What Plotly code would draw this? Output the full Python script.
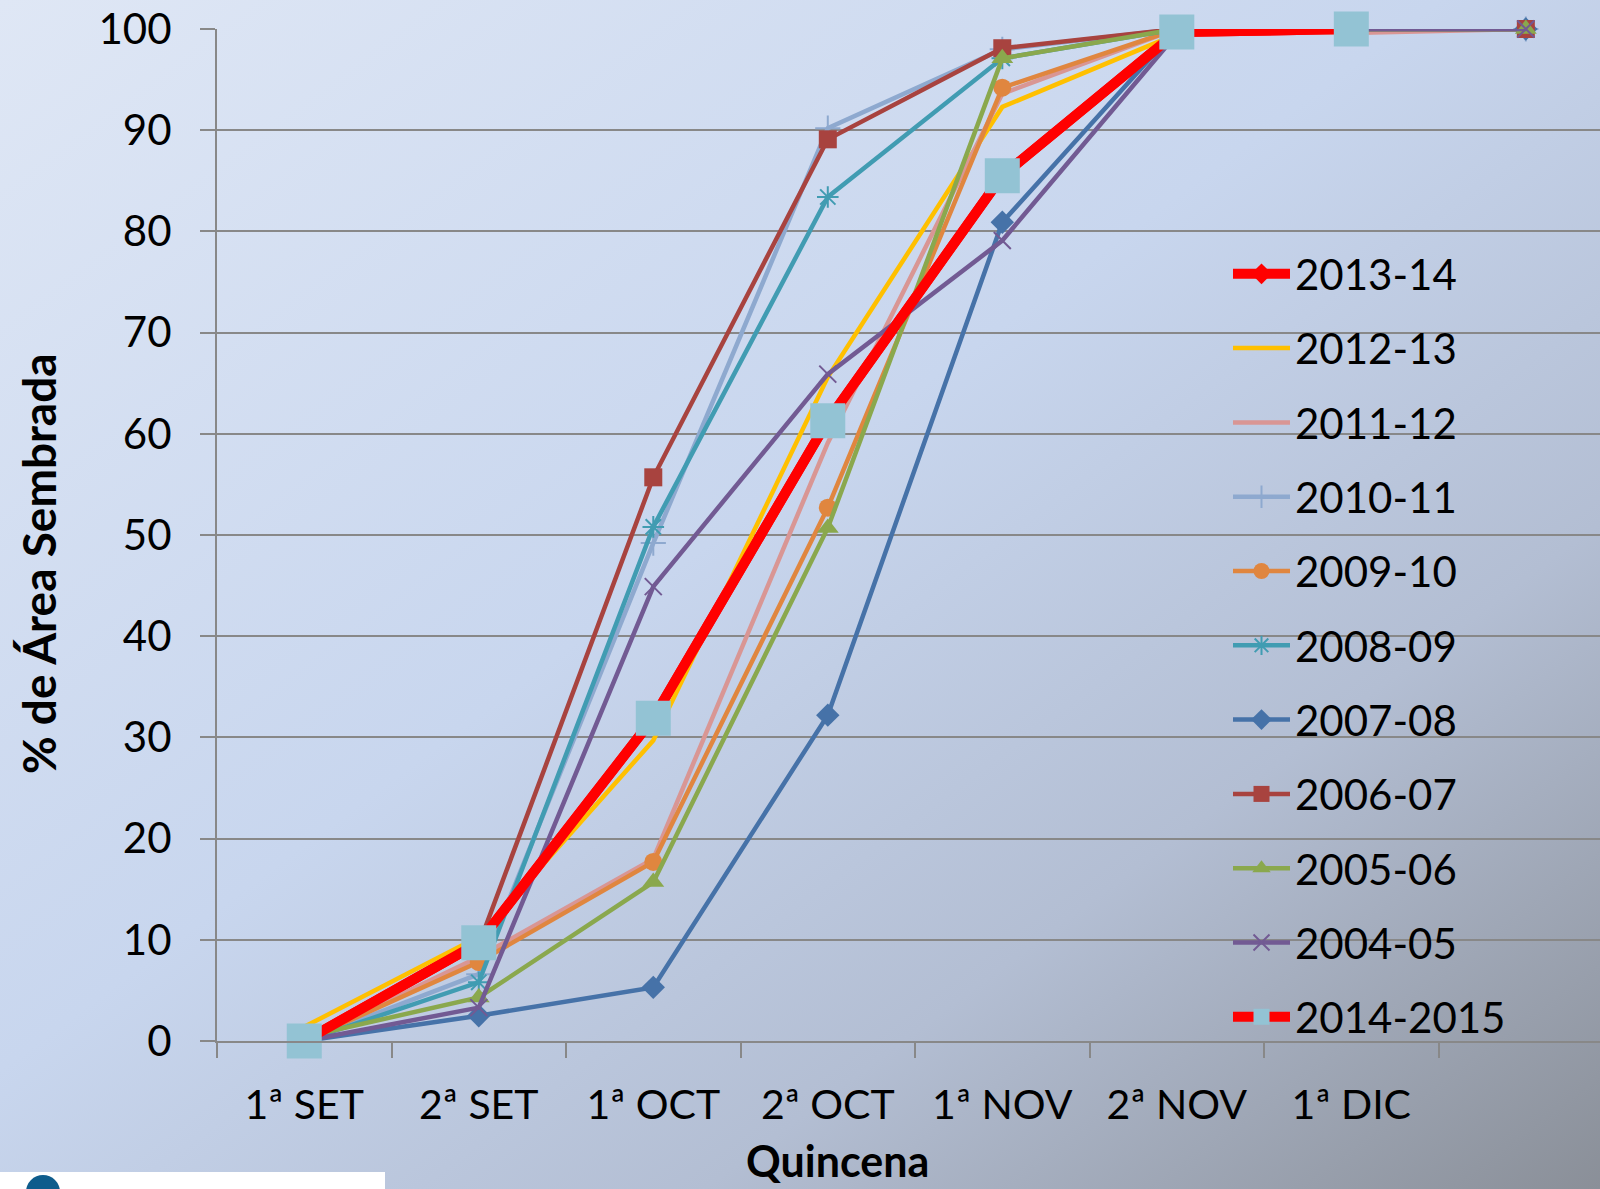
import base64
import plotly.graph_objects as go

categories = ["1ª SET", "2ª SET", "1ª OCT", "2ª OCT", "1ª NOV", "2ª NOV", "1ª DIC", " "]

s_2013_14 = [0, 9.7, 31.9, 61.3, 85.5, 99.7, 100]
s_2012_13 = [1.4, 10.3, 29.7, 65.6, 92.3, 99.5, 100, 100]
s_2011_12 = [0, 8.3, 18.0, 59.1, 93.6, 100, 99.6, 100]
s_2010_11 = [0, 6.6, 49.2, 90.2, 98.0, 100, 100, 100]
s_2009_10 = [0, 7.8, 17.7, 52.7, 94.2, 100, 100, 100]
s_2008_09 = [0, 5.8, 50.8, 83.4, 97.1, 100, 100, 100]
s_2007_08 = [0, 2.5, 5.3, 32.2, 80.9, 100, 100, 100]
s_2006_07 = [0, 9.5, 55.7, 89.1, 98.1, 100, 100, 100]
s_2005_06 = [0.4, 4.3, 15.7, 50.7, 97.1, 100, 100, 100]
s_2004_05 = [0, 3.3, 44.9, 65.9, 79.1, 99.5, 100, 100]
s_2014_2015 = [0, 9.7, 31.9, 61.3, 85.5, 99.7, 100]

y_ticks = [0, 10, 20, 30, 40, 50, 60, 70, 80, 90, 100]

W, H = 1600, 1189
L, R, T, B = 217, 0, 29, 148
PW, PH = W - L - R, H - T - B

def px(x):
    return (x - L) / PW

def py(y):
    return (H - B - y) / PH

FONT = "Lato"

series = [
    ("2013-14", s_2013_14, "#FF0000", 10, dict(symbol="diamond", size=18, color="#FF0000")),
    ("2012-13", s_2012_13, "#FFC000", 4.5, None),
    ("2011-12", s_2011_12, "#D99694", 4.5, None),
    ("2010-11", s_2010_11, "#8EA9CF", 4.5, dict(symbol="cross-thin-open", size=18, color="#8EA9CF", line=dict(width=2, color="#8EA9CF"))),
    ("2009-10", s_2009_10, "#E0863F", 4.5, dict(symbol="circle", size=18, color="#E0863F")),
    ("2008-09", s_2008_09, "#419CB2", 4.5, dict(symbol="asterisk-open", size=18, color="#419CB2", line=dict(width=2, color="#419CB2"))),
    ("2007-08", s_2007_08, "#4672A8", 4.5, dict(symbol="diamond", size=18, color="#4672A8")),
    ("2006-07", s_2006_07, "#A8433F", 4.5, dict(symbol="square", size=18, color="#A8433F")),
    ("2005-06", s_2005_06, "#8AA84D", 4.5, dict(symbol="triangle-up", size=19, color="#8AA84D")),
    ("2004-05", s_2004_05, "#725A93", 4.5, dict(symbol="x-thin-open", size=17, color="#725A93", line=dict(width=2, color="#725A93"))),
    ("2014-2015", s_2014_2015, "#FF0000", 10, dict(symbol="square", size=35, color="#93C3D4")),
]

fig = go.Figure()
for name, vals, col, lw, mk in series:
    fig.add_trace(go.Scatter(
        x=categories[:len(vals)], y=vals, name=name,
        mode="lines+markers" if mk else "lines",
        line=dict(color=col, width=lw),
        marker=mk if mk else None,
        legendgroup=name,
        cliponaxis=False,
    ))

svg = (
    "<svg xmlns='http://www.w3.org/2000/svg' width='1600' height='1189' viewBox='0 0 1600 1189' preserveAspectRatio='none'>"
    "<defs><linearGradient id='g' x1='0' y1='0' x2='1' y2='1'>"
    "<stop offset='0' stop-color='#dfe7f5'/>"
    "<stop offset='0.45' stop-color='#c8d6ee'/>"
    "<stop offset='0.72' stop-color='#b3bed3'/>"
    "<stop offset='1' stop-color='#8a8f98'/>"
    "</linearGradient></defs><rect width='1600' height='1189' fill='url(#g)'/></svg>"
)
src = "data:image/svg+xml;base64," + base64.b64encode(svg.encode()).decode()

fig.add_layout_image(dict(
    source=src, xref="paper", yref="paper",
    x=px(0), y=py(0), sizex=W / PW, sizey=H / PH,
    xanchor="left", yanchor="top", sizing="stretch", layer="below",
))

# white footer box and logo circle
fig.add_shape(type="rect", xref="paper", yref="paper",
              x0=px(0), x1=px(385), y0=py(1189), y1=py(1172),
              fillcolor="white", line=dict(width=0), layer="above")
fig.add_shape(type="circle", xref="paper", yref="paper",
              x0=px(26), x1=px(60), y0=py(1209), y1=py(1175),
              fillcolor="#0E5C8C", line=dict(width=0), layer="above")

fig.add_annotation(text="<b>Quincena</b>", xref="paper", yref="paper",
                   x=px(837), y=py(1188), xanchor="center", yanchor="bottom",
                   showarrow=False, font=dict(family=FONT, size=43, color="black"))
fig.add_annotation(text="<b>% de Área Sembrada</b>", xref="paper", yref="paper",
                   x=px(38), y=py(564), xanchor="center", yanchor="middle",
                   textangle=-90, showarrow=False,
                   font=dict(family=FONT, size=46, color="black"))

fig.update_layout(
    width=W, height=H,
    margin=dict(l=L, r=R, t=T, b=B, pad=0),
    paper_bgcolor="#c8d6ee",
    plot_bgcolor="rgba(0,0,0,0)",
    font=dict(family=FONT, size=42, color="black"),
    showlegend=True,
    legend=dict(
        x=px(1228), y=py(240), xanchor="left", yanchor="top",
        bgcolor="rgba(0,0,0,0)", borderwidth=0,
        font=dict(family=FONT, size=42, color="black"),
        tracegroupgap=16.7, itemwidth=57,
    ),
    xaxis=dict(
        type="category", categoryorder="array", categoryarray=categories,
        range=[-0.5, 7.425],
        showgrid=False, showline=True, linecolor="#888888", linewidth=2,
        ticks="outside", tickson="boundaries", ticklen=15, tickwidth=2, tickcolor="#888888",
        tickfont=dict(family=FONT, size=41, color="black"),
        ticklabelstandoff=27,
    ),
    yaxis=dict(
        range=[0, 100], tickvals=y_ticks,
        showgrid=True, gridcolor="#888888", gridwidth=2,
        zeroline=False, showline=True, linecolor="#888888", linewidth=2,
        ticks="outside", ticklen=15, tickwidth=2, tickcolor="#888888",
        tickfont=dict(family=FONT, size=42, color="black"),
        ticklabelstandoff=20,
    ),
)

fig.write_html(
    "out.html",
    config={"displayModeBar": False},
    post_script="document.body.style.margin='0';document.body.style.padding='0';",
)
